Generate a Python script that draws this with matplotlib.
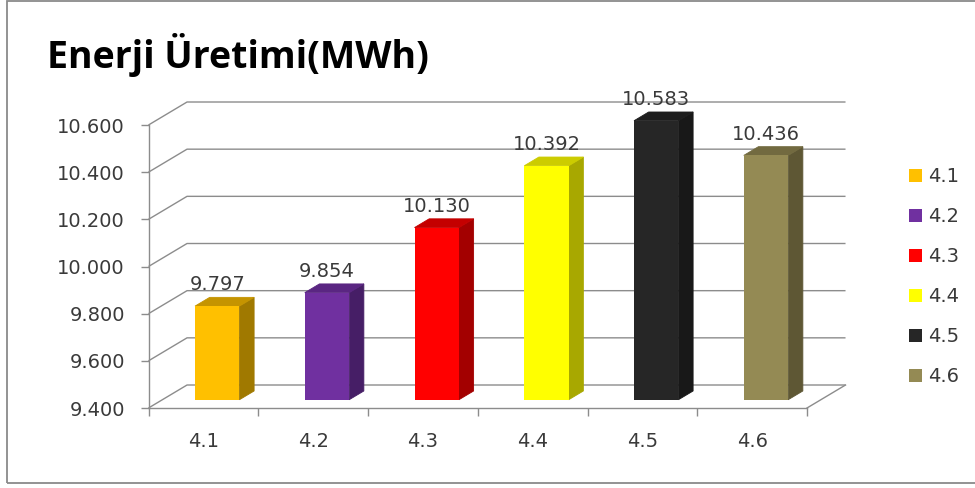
import matplotlib
matplotlib.use("Agg")
import matplotlib.pyplot as plt
from matplotlib.patches import Polygon, Patch, Rectangle

# ---- data -----------------------------------------------------------------
categories = ["4.1", "4.2", "4.3", "4.4", "4.5", "4.6"]
values = [9.797, 9.854, 10.130, 10.392, 10.583, 10.436]
y_ticks = [9.4, 9.6, 9.8, 10.0, 10.2, 10.4, 10.6]
y_tick_labels = ["9.400", "9.600", "9.800", "10.000", "10.200", "10.400", "10.600"]
title = "Enerji Üretimi(MWh)"

front_colors = ["#FFC000", "#7030A0", "#FF0000", "#FFFF00", "#262626", "#948A54"]
side_colors = ["#A07900", "#461E66", "#A30000", "#A8A800", "#181818", "#5E5734"]
top_colors = ["#C59400", "#5A2682", "#C40000", "#CCCC00", "#1E1E1E", "#726A40"]

# ---- style ------------------------------------------------------------------
GRID = "#8C8C8C"
TEXT = "#3A3A3A"
FS = 14
Y0, Y1 = 9.4, 10.6
# oblique depth of the plot box, expressed in axis data units
DX, DY = 0.351, 0.0975
F0, F1 = 0.36, 0.74          # front / back depth of the bars
BAR_W = 0.405

fig = plt.figure(figsize=(9.75, 4.88), dpi=100)
fig.patch.set_facecolor("white")
ax = fig.add_axes([148.5 / 975, 80 / 488, 658.5 / 975, 283 / 488])
ax.set_xlim(0, len(categories))
ax.set_ylim(Y0, Y1)
ax.set_facecolor("none")

# walls: left-wall diagonals + back-wall gridlines
for v in y_ticks:
    ax.plot([0, DX, len(categories) + DX], [v, v + DY, v + DY],
            color=GRID, lw=1.0, clip_on=False, zorder=1, solid_capstyle="butt")
# right edge of the floor
ax.plot([len(categories), len(categories) + DX], [Y0, Y0 + DY],
        color=GRID, lw=1.0, clip_on=False, zorder=1)

# spines and ticks
for s in ("top", "right"):
    ax.spines[s].set_visible(False)
for s in ("left", "bottom"):
    ax.spines[s].set_color(GRID)
    ax.spines[s].set_linewidth(1.0)

ax.set_yticks(y_ticks)
ax.set_yticklabels(y_tick_labels, fontsize=FS, color=TEXT, family="DejaVu Sans")
ax.tick_params(axis="y", direction="out", length=6, width=1.0, color=GRID, pad=11)

ax.set_xticks(range(len(categories) + 1))
ax.set_xticklabels([])
ax.set_xticks([i + 0.5 for i in range(len(categories))], minor=True)
ax.set_xticklabels(categories, minor=True, fontsize=FS, color=TEXT, family="DejaVu Sans")
ax.tick_params(axis="x", which="major", direction="out", length=6, width=1.0, color=GRID)
ax.tick_params(axis="x", which="minor", length=0, pad=17.5)

# 3D-looking bars
centers = [i + 0.5 + F0 * DX for i in range(len(categories))]
base = Y0 + F0 * DY
ax.bar(centers, [v - Y0 for v in values], width=BAR_W, bottom=base,
       color=front_colors, zorder=4, clip_on=False, linewidth=0)
d = F1 - F0
for xc, v, sc, tc in zip(centers, values, side_colors, top_colors):
    xl, xr = xc - BAR_W / 2, xc + BAR_W / 2
    top = v + F0 * DY
    side = Polygon([(xr, base), (xr, top), (xr + d * DX, top + d * DY),
                    (xr + d * DX, base + d * DY)], closed=True,
                   facecolor=sc, edgecolor=sc, lw=0.6, zorder=3, clip_on=False)
    cap = Polygon([(xl, top), (xr, top), (xr + d * DX, top + d * DY),
                   (xl + d * DX, top + d * DY)], closed=True,
                  facecolor=tc, edgecolor=tc, lw=0.6, zorder=3, clip_on=False)
    ax.add_patch(side)
    ax.add_patch(cap)
    ax.annotate(f"{v:.3f}", xy=(xc, v + F1 * DY), xytext=(0, 5),
                textcoords="offset points", ha="center", va="baseline",
                fontsize=FS, color=TEXT, family="DejaVu Sans", zorder=6,
                annotation_clip=False)

# legend
handles = [Patch(facecolor=c, edgecolor="none") for c in front_colors]
fig.legend(handles, categories, loc="center left",
           bbox_to_anchor=(909 / 975, 211.5 / 488), frameon=False,
           handlelength=0.68, handleheight=0.68,
           handletextpad=0.32, labelspacing=1.08, borderpad=0,
           borderaxespad=0, labelcolor=TEXT,
           prop={"family": "DejaVu Sans", "size": FS})

# title
fig.text(47 / 975, 1 - 68 / 488, title, fontsize=27, fontweight="bold",
         family="Open Sans", va="baseline", ha="left", color="black")

# chart border
fig.add_artist(Rectangle((7 / 975, 5 / 488), 1.0, 482 / 488,
                         transform=fig.transFigure, fill=False,
                         edgecolor="#8A8A8A", lw=1.3, zorder=0))

fig.savefig("out.png", dpi=100)
